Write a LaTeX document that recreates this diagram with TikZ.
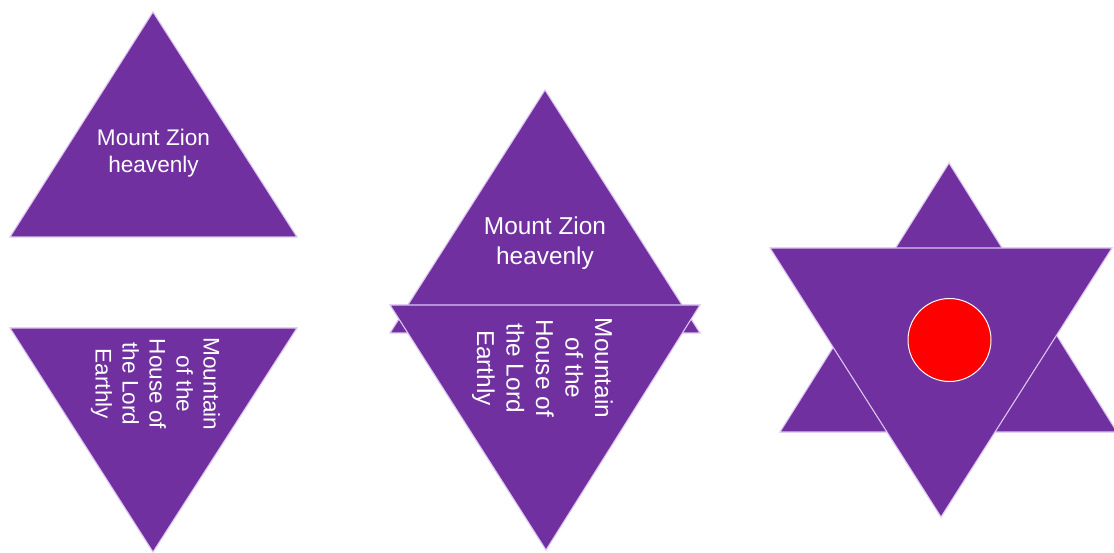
\documentclass[tikz,border=0pt]{standalone}
\usepackage{fontspec}
\setmainfont{Liberation Sans}
\definecolor{tripurple}{HTML}{7030A0}
\definecolor{triedge}{RGB}{222,196,240}
\tikzset{
  tri/.style={fill=tripurple, draw=triedge, line width=1.1pt, line join=miter},
  lbl/.style={text=white, align=center, inner sep=0pt},
  lblsmall/.style={lbl, font=\fontsize{22.6}{27}\selectfont},
  lblbig/.style={lbl, font=\fontsize{24.4}{29.5}\selectfont},
  sun/.style={fill=red, draw=white, line width=1pt}
}
\begin{document}
\begin{tikzpicture}[x=1pt,y=-1pt]
\useasboundingbox (0,0) rectangle (1114,553);
% ---- left pair ----
\path[tri] (153,12) -- (297,237) -- (10,237) -- cycle;
\node[lblsmall] (lz) at (153.5,153) {Mount Zion\\heavenly};
\path[tri] (10,328) -- (297,328) -- (153,552) -- cycle;
\node[lblsmall, rotate=-90] (lh) at (155.5,384) {Mountain\\of the\\House of\\the Lord\\Earthly};
% ---- middle overlap ----
\path[tri] (545,90) -- (700,333) -- (390,333) -- cycle;
\node[lblbig] (mz) at (545,243) {Mount Zion\\heavenly};
\path[tri] (390,305) -- (700,305) -- (546,550) -- cycle;
\node[lblbig, rotate=-90] (mh) at (542.5,368) {Mountain\\of the\\House of\\the Lord\\Earthly};
% ---- star ----
\path[tri] (949,163) -- (1117,432) -- (780,432) -- cycle;
\path[tri] (770,248) -- (1112,248) -- (941,517) -- cycle;
\node[sun, circle, minimum size=83pt, inner sep=0pt] (dot) at (949.5,340) {};
\end{tikzpicture}
\end{document}
